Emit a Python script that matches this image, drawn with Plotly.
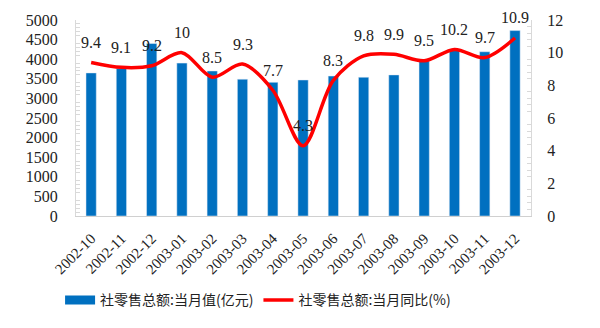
import plotly.graph_objects as go

months = ["2002-10", "2002-11", "2002-12", "2003-01", "2003-02", "2003-03", "2003-04",
          "2003-05", "2003-06", "2003-07", "2003-08", "2003-09", "2003-10", "2003-11", "2003-12"]
retail_value = [3650, 3770, 4400, 3900, 3700, 3490, 3410, 3470, 3570, 3540, 3600, 3960, 4230, 4190, 4730]
retail_yoy = [9.4, 9.1, 9.2, 10, 8.5, 9.3, 7.7, 4.3, 8.3, 9.8, 9.9, 9.5, 10.2, 9.7, 10.9]

serif = "Liberation Serif"
cjk = "'Noto Sans CJK SC', sans-serif"
blue = "#0070C0"
red = "#FF0000"

fig = go.Figure()
fig.add_trace(go.Bar(
    x=months, y=retail_value, name="社零售总额:当月值(亿元)",
    marker=dict(color=blue), yaxis="y", showlegend=False))
# legend entry drawn as a wide blue band, like the original's rectangle key
fig.add_trace(go.Scatter(
    x=[None], y=[None], name="社零售总额:当月值(亿元)", mode="lines",
    line=dict(color=blue, width=9), yaxis="y"))
fig.add_trace(go.Scatter(
    x=months, y=retail_yoy, name="社零售总额:当月同比(%)",
    mode="lines", line=dict(color=red, width=3.5, shape="spline", smoothing=0.9),
    yaxis="y2"))

for m, v in zip(months, retail_yoy):
    fig.add_annotation(x=m, y=v, yref="y2", text=f"{v:g}", showarrow=False,
                       yshift=20, font=dict(family=serif, size=16, color="#222"))

fig.update_layout(
    width=600, height=328,
    margin=dict(l=76, r=69, t=20, b=112),
    paper_bgcolor="white", plot_bgcolor="white",
    bargap=0.66,
    showlegend=True,
    legend=dict(orientation="h", x=-0.035, xanchor="left", y=-0.43, yanchor="middle",
                font=dict(family=cjk, size=14, color="#222"),
                tracegroupgap=0, itemwidth=30),
    xaxis=dict(type="category", tickangle=-45, showline=True, linecolor="#D0D0D0",
               tickfont=dict(family=serif, size=15, color="#222"), ticks="",
               ticklabelstandoff=7, showgrid=False),
    yaxis=dict(range=[0, 5000], dtick=500, showgrid=False, zeroline=False,
               showline=True, linecolor="#D9D9D9", ticklabelstandoff=14,
               tickfont=dict(family=serif, size=16, color="#222"),
               ticks="", minor=dict(ticks="inside", ticklen=4, tickcolor="#D9D9D9", dtick=100)),
    yaxis2=dict(range=[0, 12], dtick=2, overlaying="y", side="right", showgrid=False,
                zeroline=False, showline=True, linecolor="#D9D9D9", ticklabelstandoff=12,
                tickfont=dict(family=serif, size=16, color="#222"),
                ticks="", minor=dict(ticks="inside", ticklen=4, tickcolor="#D9D9D9", dtick=0.4)),
)

fig.write_html("out.html")
